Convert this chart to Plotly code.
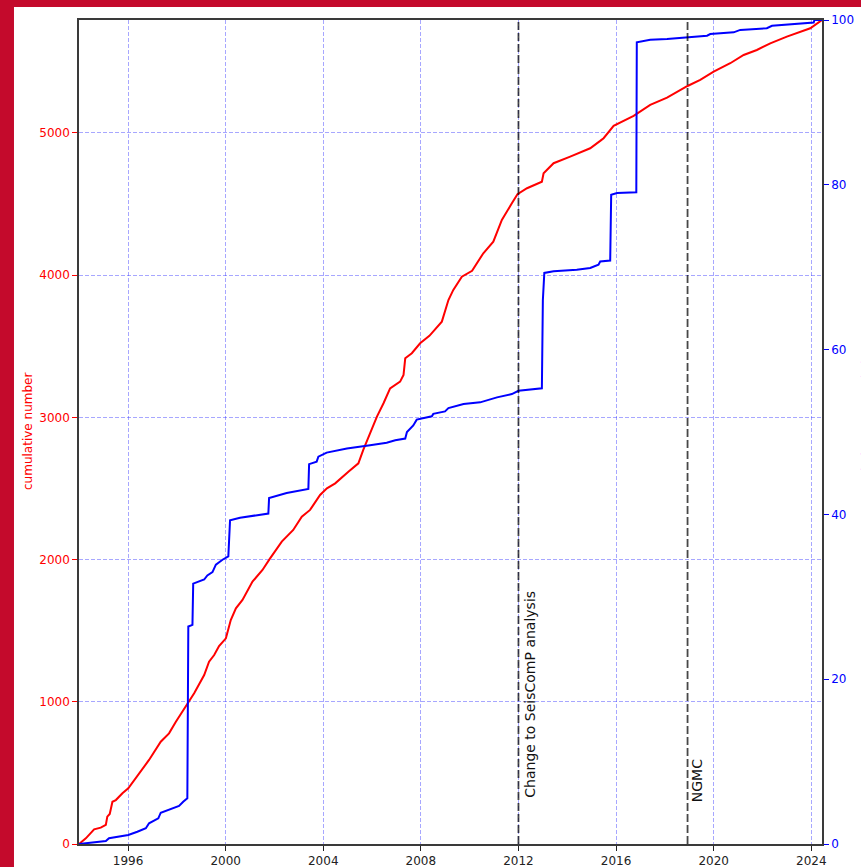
import plotly.graph_objects as go

# Cumulative number of events (left axis)
red_years = [1993.99, 1994.27, 1994.61, 1994.88, 1995.09, 1995.15, 1995.25, 1995.36, 1995.50, 1995.77,
             1996.01, 1996.45, 1996.86, 1997.34, 1997.68, 1997.96, 1998.23, 1998.47, 1998.71, 1999.12,
             1999.32, 1999.53, 1999.73, 2000.01, 2000.21, 2000.42, 2000.69, 2001.10, 2001.51, 2001.80,
             2002.30, 2002.77, 2003.12, 2003.46, 2003.87, 2004.15, 2004.49, 2005.03, 2005.44, 2005.64,
             2005.85, 2006.20, 2006.47, 2006.74, 2007.15, 2007.29, 2007.36, 2007.63, 2007.97, 2008.35,
             2008.86, 2009.13, 2009.33, 2009.68, 2010.10, 2010.56, 2010.97, 2011.32, 2011.73, 2011.96,
             2012.35, 2012.96, 2013.03, 2013.44, 2014.12, 2014.94, 2015.35, 2015.49, 2015.90, 2016.72,
             2017.40, 2018.09, 2018.93, 2019.45, 2020.00, 2020.68, 2021.23, 2021.77, 2022.32, 2023.00,
             2023.96, 2024.44]
red_counts = [0, 40, 103, 115, 134, 192, 211, 297, 309, 357,
              392, 497, 591, 719, 778, 860, 930, 994, 1060, 1188,
              1282, 1329, 1392, 1446, 1575, 1657, 1716, 1845, 1927, 2003,
              2126, 2208, 2302, 2349, 2454, 2501, 2536, 2618, 2677, 2771,
              2864, 3005, 3099, 3204, 3251, 3298, 3415, 3451, 3521, 3573,
              3673, 3825, 3896, 3989, 4030, 4154, 4235, 4388, 4505, 4569,
              4611, 4657, 4716, 4787, 4833, 4892, 4944, 4963, 5050, 5120,
              5197, 5248, 5330, 5373, 5431, 5490, 5548, 5583, 5630, 5677,
              5736, 5794]

# Cumulative share in percent (right axis)
blue_years = [1993.99, 1994.40, 1995.09, 1995.22, 1996.01, 1996.38, 1996.73, 1996.86, 1997.24, 1997.34,
              1997.68, 1998.09, 1998.26, 1998.43, 1998.47, 1998.64, 1998.67, 1999.12, 1999.25, 1999.46,
              1999.60, 1999.87, 2000.11, 2000.18, 2000.59, 2001.41, 2001.75, 2001.78, 2002.03, 2002.50,
              2003.39, 2003.42, 2003.73, 2003.80, 2004.14, 2004.56, 2004.97, 2005.92, 2006.60, 2006.95,
              2007.36, 2007.43, 2007.69, 2007.83, 2008.45, 2008.51, 2008.99, 2009.13, 2009.75, 2010.43,
              2011.12, 2011.73, 2012.00, 2012.96, 2013.00, 2013.06, 2013.44, 2014.39, 2014.94, 2015.28,
              2015.35, 2015.76, 2015.80, 2016.04, 2016.83, 2016.85, 2017.40, 2018.09, 2018.91, 2019.73,
              2019.86, 2020.82, 2021.09, 2022.18, 2022.39, 2023.28, 2024.10, 2024.13, 2024.44]
blue_pct = [0, 0.16, 0.36, 0.69, 1.09, 1.49, 1.91, 2.51, 3.12, 3.80,
            4.13, 4.61, 5.13, 5.55, 26.4, 26.6, 31.6, 32.1, 32.6, 33.0,
            33.9, 34.5, 34.9, 39.3, 39.6, 40.0, 40.1, 42.0, 42.2, 42.6,
            43.1, 46.1, 46.4, 47.0, 47.5, 47.8, 48.0, 48.4, 48.7, 49.0,
            49.2, 50.0, 50.8, 51.5, 51.9, 52.2, 52.5, 52.9, 53.4, 53.6,
            54.2, 54.6, 55.0, 55.3, 66.0, 69.3, 69.5, 69.7, 69.9, 70.3,
            70.7, 70.8, 78.8, 79.0, 79.1, 97.3, 97.6, 97.7, 97.9, 98.1,
            98.3, 98.5, 98.8, 99.0, 99.3, 99.5, 99.7, 100.0, 100.0]

# Marked events
event_years = [2012.0, 2018.93]
event_labels = ["Change to SeisComP analysis", "NGMC"]
event_label_years = [2012.46, 2019.33]
event_label_ypos = [0.182, 0.0765]

x_ticks = [1996, 2000, 2004, 2008, 2012, 2016, 2020, 2024]
left_ticks = [0, 1000, 2000, 3000, 4000, 5000]
right_ticks = [0, 20, 40, 60, 80, 100]

FONT = "DejaVu Sans"
RED = "#ff0000"
BLUE = "#0000ff"
GRID = "rgba(60,60,255,0.45)"
SPINE = "#3a3a3a"

fig = go.Figure()
fig.add_trace(go.Scatter(x=red_years, y=red_counts, mode="lines",
                         line=dict(color=RED, width=2), yaxis="y", hoverinfo="skip"))
fig.add_trace(go.Scatter(x=blue_years, y=blue_pct, mode="lines",
                         line=dict(color=BLUE, width=2), yaxis="y2", hoverinfo="skip"))

shapes = [
    # white panel on the red slide background
    dict(type="rect", xref="paper", yref="paper", x0=-0.0875, x1=1.2, y0=-0.2, y1=1.0158,
         fillcolor="white", line=dict(width=0), layer="below"),
]
for ey in event_years:
    shapes.append(dict(type="line", xref="x", yref="paper", x0=ey, x1=ey, y0=0, y1=1,
                       line=dict(color="rgba(0,0,0,0.72)", width=1.8, dash="8px,3px"),
                       layer="above"))

annotations = [
    dict(text="cumulative number", xref="paper", yref="paper", x=(28 - 79) / 743, y=0.5,
         xanchor="center", yanchor="middle", textangle=-90, showarrow=False,
         font=dict(family=FONT, size=12, color=RED)),
    dict(text="cumulative moment (%)", xref="paper", yref="paper", x=(857.5 - 79) / 743, y=0.5,
         xanchor="left", yanchor="middle", textangle=-90, showarrow=False,
         font=dict(family=FONT, size=12, color=BLUE)),
]
for lx, ly, lab in zip(event_label_years, event_label_ypos, event_labels):
    annotations.append(dict(text=lab, xref="x", yref="paper", x=lx, y=ly,
                            xanchor="center", yanchor="middle", textangle=-90, showarrow=False,
                            font=dict(family=FONT, size=14, color="#111111")))

fig.update_layout(
    width=861, height=867,
    margin=dict(l=79, r=39, t=20, b=23),
    paper_bgcolor="#c40a2c",
    plot_bgcolor="white",
    showlegend=False,
    font=dict(family=FONT, size=12, color="#222222"),
    shapes=shapes,
    annotations=annotations,
    xaxis=dict(range=[1993.99, 2024.44], tickvals=x_ticks, ticktext=[str(t) for t in x_ticks],
               ticks="outside", ticklen=5, tickwidth=1.2, tickcolor="#222222",
               tickfont=dict(family=FONT, size=12, color="#222222"),
               showline=True, linecolor=SPINE, linewidth=1.5, mirror=True,
               showgrid=True, gridcolor=GRID, gridwidth=1, griddash="4px,2px",
               zeroline=False, automargin=False),
    yaxis=dict(range=[0, 5794], tickvals=left_ticks, ticktext=[str(t) for t in left_ticks],
               ticks="outside", ticklen=5, tickwidth=1.2, tickcolor=RED,
               tickfont=dict(family=FONT, size=12, color=RED),
               showline=True, linecolor=SPINE, linewidth=1.5,
               showgrid=True, gridcolor=GRID, gridwidth=1, griddash="4px,2px",
               zeroline=False, automargin=False),
    yaxis2=dict(range=[0, 100], tickvals=right_ticks, ticktext=[str(t) for t in right_ticks],
                overlaying="y", side="right",
                ticks="outside", ticklen=5, tickwidth=1.2, tickcolor=BLUE,
                tickfont=dict(family=FONT, size=12, color=BLUE),
                showline=True, linecolor=SPINE, linewidth=1.5,
                showgrid=False, zeroline=False, automargin=False),
)

fig.write_html("out.html")
